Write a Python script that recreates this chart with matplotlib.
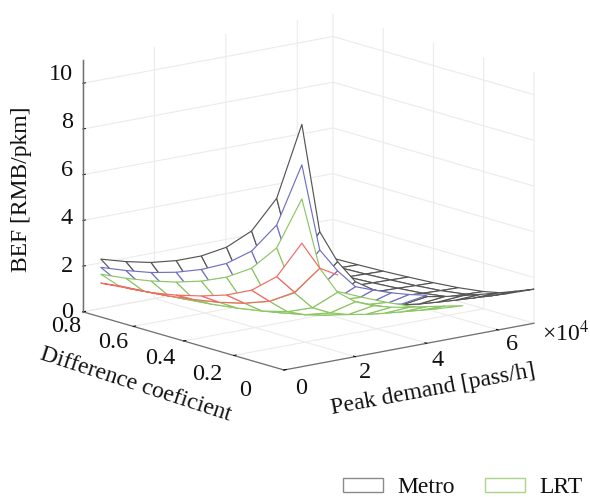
import numpy as np
import matplotlib
matplotlib.use('Agg')
import matplotlib.pyplot as plt
from matplotlib.patches import Patch
from mpl_toolkits.mplot3d import proj3d

plt.rcParams['font.family'] = ['Liberation Serif', 'DejaVu Serif']
plt.rcParams['mathtext.fontset'] = 'stix'

coef = [0, 0.1, 0.2, 0.3, 0.4, 0.5, 0.6, 0.7, 0.8]
demand = [5000, 10000, 15000, 20000, 25000, 30000, 35000,
          40000, 45000, 50000, 55000, 60000, 65000, 70000]

# rows = difference coefficient, columns = peak demand
metro = [
    [10.60, 5.76, 4.30, 3.28, 2.78, 2.44, 2.21, 2.04, 1.90, 1.79, 1.70, 1.62, 1.55, 1.49],
    [7.05, 3.83, 2.86, 2.18, 1.85, 1.62, 1.47, 1.36, 1.26, 1.19, 1.13, 1.08, 1.03, 0.99],
    [5.30, 2.88, 2.15, 1.64, 1.39, 1.22, 1.11, 1.02, 0.95, 0.90, 0.85, 0.81, 0.78, 0.75],
    [4.27, 2.32, 1.73, 1.32, 1.12, 0.98, 0.89, 0.82, 0.77, 0.72, 0.69, 0.65, 0.62, 0.60],
    [3.57, 1.94, 1.45, 1.11, 0.94, 0.82, 0.74, 0.69, 0.64, 0.60, 0.57, 0.55, 0.52, 0.50],
    [3.05, 1.66, 1.24, 0.94, 0.80, 0.70, 0.64, 0.59, 0.55, 0.52, 0.49, 0.47, 0.45, 0.43],
    [2.65, 1.44, 1.08, 0.82, 0.70, 0.61, 0.55, 0.51, 0.48, 0.45, 0.43, 0.41, 0.39, 0.37],
    [2.37, 1.29, 0.96, 0.73, 0.62, 0.55, 0.50, 0.46, 0.43, 0.40, 0.38, 0.36, 0.35, 0.33],
    [2.16, 1.18, 0.88, 0.67, 0.57, 0.50, 0.45, 0.42, 0.39, 0.37, 0.35, 0.33, 0.32, 0.30],
]
blue = [
    [8.83, 4.96, 3.90, 3.06, 2.77, 2.50, 2.28, 2.10],
    [5.88, 3.30, 2.59, 2.04, 1.84, 1.66, 1.52, 1.40],
    [4.42, 2.48, 1.95, 1.53, 1.39, 1.25, 1.14, 1.05],
    [3.56, 2.00, 1.57, 1.23, 1.12, 1.01, 0.92, 0.85],
    [2.98, 1.67, 1.31, 1.03, 0.93, 0.84, 0.77, 0.71],
    [2.54, 1.43, 1.12, 0.88, 0.80, 0.72, 0.66, 0.60],
    [2.21, 1.24, 0.98, 0.77, 0.69, 0.63, 0.57, 0.53],
    [1.98, 1.11, 0.87, 0.69, 0.62, 0.56, 0.51, 0.47],
    [1.80, 1.01, 0.80, 0.62, 0.57, 0.51, 0.47, 0.43],
]
lrt = [
    [7.34, 4.16, 2.96, 2.40, 2.08, 1.87, 1.72, 1.60, 1.48, 1.35],
    [4.88, 2.77, 1.97, 1.60, 1.38, 1.24, 1.14, 1.06, 0.98, 0.90],
    [3.67, 2.08, 1.48, 1.20, 1.04, 0.94, 0.86, 0.80, 0.74, 0.68],
    [2.96, 1.68, 1.19, 0.97, 0.84, 0.75, 0.69, 0.64, 0.60, 0.54],
    [2.47, 1.40, 1.00, 0.81, 0.70, 0.63, 0.58, 0.54, 0.50, 0.45],
    [2.11, 1.20, 0.85, 0.69, 0.60, 0.54, 0.50, 0.46, 0.43, 0.39],
    [1.84, 1.04, 0.74, 0.60, 0.52, 0.47, 0.43, 0.40, 0.37, 0.34],
    [1.64, 0.93, 0.66, 0.54, 0.47, 0.42, 0.39, 0.36, 0.33, 0.30],
    [1.50, 0.85, 0.60, 0.49, 0.42, 0.38, 0.35, 0.33, 0.30, 0.28],
]
red = [
    [5.40, 4.16],
    [3.62, 2.79],
    [2.71, 2.08],
    [2.18, 1.68],
    [1.82, 1.40],
    [1.54, 1.20],
    [1.33, 1.04],
    [1.22, 0.93],
    [1.11, 0.85],
]
red_edge = [4.16, 3.72]

x_ticks = [0, 20000, 40000, 60000]
x_labels = ['0', '2', '4', '6']
y_ticks = [0, 0.2, 0.4, 0.6, 0.8]
y_labels = ['0', '0.2', '0.4', '0.6', '0.8']
z_ticks = [0, 2, 4, 6, 8, 10]
z_labels = ['0', '2', '4', '6', '8', '10']

BLACK = '#555555'
BLUE = '#7070c4'
GREEN = '#8cc663'
RED = '#f26a62'
AXIS = '#707070'
W, H = 590, 497
FS = 17
LW = 0.85


def mesh(ax, z, color, order):
    z = np.array(z)
    X, Y = np.meshgrid(demand[:z.shape[1]], coef)
    ax.plot_surface(X, Y, z, color='white', edgecolor=color,
                    linewidth=LW, shade=False, rstride=1, cstride=1,
                    antialiased=True, zorder=order)


def to_px(ax, x, y, z):
    xs, ys, _ = proj3d.proj_transform(x, y, z, ax.get_proj())
    return ax.transData.transform((xs, ys))


def txt(x, y, s, **kw):
    kw.setdefault('ha', 'center')
    kw.setdefault('va', 'center')
    kw.setdefault('fontsize', FS)
    return fig.text(x / W, 1 - y / H, s, color='#111111', **kw)


fig = plt.figure(figsize=(5.9, 4.97), dpi=100)
ax = fig.add_axes([0.1, 0.1, 0.8, 0.8], projection='3d')
ax.computed_zorder = False
ax.set_proj_type('ortho')
ax.view_init(elev=13.45, azim=-128.8)
ax.set_box_aspect((1, 1, 0.806))
ax.set_xlim(0, 70000, view_margin=0)
ax.set_ylim(0, 0.8, view_margin=0)
ax.set_zlim(0, 11, view_margin=0)

# painter order, nearest mesh last
mesh(ax, metro, BLACK, 1)
mesh(ax, blue, BLUE, 2)
mesh(ax, lrt, GREEN, 3)
mesh(ax, red, RED, 4)
ax.plot(demand[1:3], coef[:1] * 2, red_edge, color=RED, linewidth=LW, zorder=5)

ax.set_xticks(x_ticks, labels=[''] * len(x_ticks))
ax.set_yticks(y_ticks, labels=[''] * len(y_ticks))
ax.set_zticks(z_ticks, labels=[''] * len(z_ticks))
for axis in (ax.xaxis, ax.yaxis, ax.zaxis):
    axis.set_pane_color((1, 1, 1, 0))
    axis.pane.set_edgecolor((1, 1, 1, 0))
    axis.line.set_color(AXIS)
    axis.line.set_linewidth(0.9)
    axis._axinfo['grid'].update(color='#ebebeb', linewidth=0.8)
    axis._axinfo['tick'].update(color=AXIS, linewidth={True: 0.7, False: 0.5},
                                inward_factor=0.0, outward_factor=0.12)
ax.plot([0, 0], [0.8, 0.8], [0, 11], color=AXIS, linewidth=0.9, zorder=0)

# fit the box onto the pixel corners of the picture
pos = [0.1, 0.1, 0.8, 0.8]
for i in range(3):
    ax.set_position(pos)
    fig.canvas.draw()
    front = to_px(ax, 0, 0, 0)
    right = to_px(ax, 70000, 0, 0)
    s = 250 / (right[0] - front[0])
    pos = [pos[0], pos[1], pos[2] * s, pos[3] * s]
    ax.set_position(pos)
    fig.canvas.draw()
    front = to_px(ax, 0, 0, 0)
    pos[0] += (284 - front[0]) / W
    pos[1] += ((H - 370) - front[1]) / H
ax.set_position(pos)

for lab, xp, yp in zip(x_labels, [301, 365, 438, 512], [388, 373, 360, 344]):
    txt(xp, yp, lab, fontsize=17.5)
for lab, xp, yp in zip(y_labels, [245, 207, 160, 113, 66], [390, 375, 358, 343, 327]):
    txt(xp, yp, lab, fontsize=17.5)
for lab, yp in zip(z_labels, [313, 267, 219, 171, 122, 74]):
    txt(73, yp, lab, ha='right', fontsize=17.5)
txt(22, 189, 'BEF [RMB/pkm]', rotation=90)
txt(136, 385, 'Difference coeficient', rotation=-18, rotation_mode='anchor')
txt(433, 390, 'Peak demand [pass/h]', rotation=10.5, rotation_mode='anchor')
txt(566, 333, r'×10$^{4}$')

handles = [Patch(facecolor='white', edgecolor='#8a8a8a', linewidth=1.0, label='Metro'),
           Patch(facecolor='white', edgecolor='#a9d48a', linewidth=1.0, label='LRT')]
fig.legend(handles=handles, ncol=2, frameon=False, fontsize=FS, loc='lower left',
           bbox_to_anchor=(343 / W, 1 - 498 / H), borderpad=0, borderaxespad=0,
           handlelength=1.7, handleheight=0.55, handletextpad=0.62, columnspacing=1.25,
           labelcolor='#111111')

fig.savefig('out.png', dpi=100)
